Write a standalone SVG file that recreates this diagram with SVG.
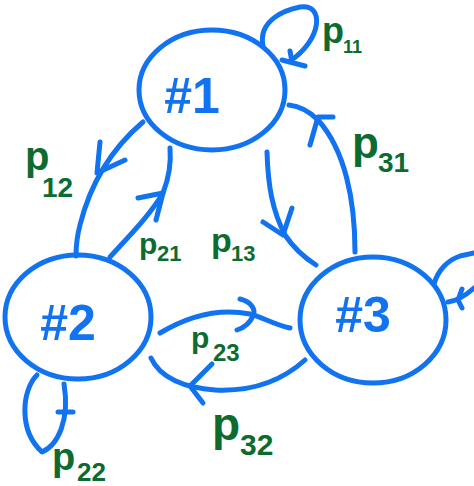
<svg xmlns="http://www.w3.org/2000/svg" width="474" height="486" viewBox="0 0 474 486">
<style>
.n{fill:none;stroke:#1173ef;stroke-width:5}
.c{fill:none;stroke:#1173ef;stroke-width:5;stroke-linecap:round;stroke-linejoin:round}
.t{font-family:"Liberation Sans",sans-serif;font-weight:bold;fill:#1173ef;text-anchor:middle}
.p{font-family:"Liberation Sans",sans-serif;font-weight:bold;fill:#0e6b2f}
</style>
<rect width="474" height="486" fill="#fff"/>
<g id="connectors">
<path class="c" d="M263,46 C258,20 285,10 300,7 C325,3 322,40 290,61"/>
<path class="c" d="M290,51 L292,62 M282,60 L305,66"/>
<path class="c" d="M143,122 C110,150 90,185 80,225 C76,240 76,250 76,256"/>
<path class="c" d="M100,142 L97,173 L125,160"/>
<path class="c" d="M110,257 C130,235 150,215 163,193 C170,175 171,160 170,148"/>
<path class="c" d="M138,198 L163,193 L156,220"/>
<path class="c" d="M267,152 C268,185 272,210 285,235 C295,250 305,258 316,265"/>
<path class="c" d="M263,222 L283,235 L292,208"/>
<path class="c" d="M355,252 C355,200 345,150 318,120 C308,110 298,106 289,105"/>
<path class="c" d="M310,145 L318,117 L333,117"/>
<path class="c" d="M160,333 C185,318 215,307 250,314 C262,317 275,325 290,328"/>
<path class="c" d="M240,299 C252,302 256,310 253,316 C250,323 243,328 237,330"/>
<path class="c" d="M305,360 C285,378 255,392 215,390 C185,388 160,378 151,358"/>
<path class="c" d="M212,364 L190,386 L203,403"/>
<path class="c" d="M37,375 C22,390 18,430 42,452 C58,445 70,420 64,384"/>
<path class="c" d="M58,412 L73,412"/>
<path class="c" d="M434,284 C438,270 448,260 460,256 L474,253"/>
<path class="c" d="M474,288 C465,296 456,301 448,302"/>
<path class="c" d="M462,289 L458,300 L462,308"/>
</g>
<g id="node1">
<ellipse class="n" cx="212" cy="90" rx="73" ry="60"/>
<text class="t" x="192" y="113" font-size="50">#1</text>
</g>
<g id="node2">
<ellipse class="n" cx="78" cy="317" rx="73" ry="62"/>
<text class="t" x="68" y="340" font-size="50">#2</text>
</g>
<g id="node3">
<ellipse class="n" cx="373" cy="320" rx="73" ry="63"/>
<text class="t" x="363" y="332" font-size="50">#3</text>
</g>
<g id="labels">
<text class="p" x="322" y="43" font-size="36">p</text><text class="p" x="343" y="53" font-size="18">11</text>
<text class="p" x="25" y="170" font-size="40">p</text><text class="p" x="42" y="197" font-size="28">12</text>
<text class="p" x="139" y="254" font-size="30">p</text><text class="p" x="157" y="261" font-size="22">21</text>
<text class="p" x="211" y="252" font-size="34">p</text><text class="p" x="231" y="261" font-size="22">13</text>
<text class="p" x="352" y="158" font-size="44">p</text><text class="p" x="378" y="172" font-size="28">31</text>
<text class="p" x="191" y="348" font-size="30">p</text><text class="p" x="213" y="361" font-size="24">23</text>
<text class="p" x="212" y="440" font-size="46">p</text><text class="p" x="240" y="455" font-size="30">32</text>
<text class="p" x="52" y="470" font-size="38">p</text><text class="p" x="77" y="481" font-size="26">22</text>
</g>
</svg>
